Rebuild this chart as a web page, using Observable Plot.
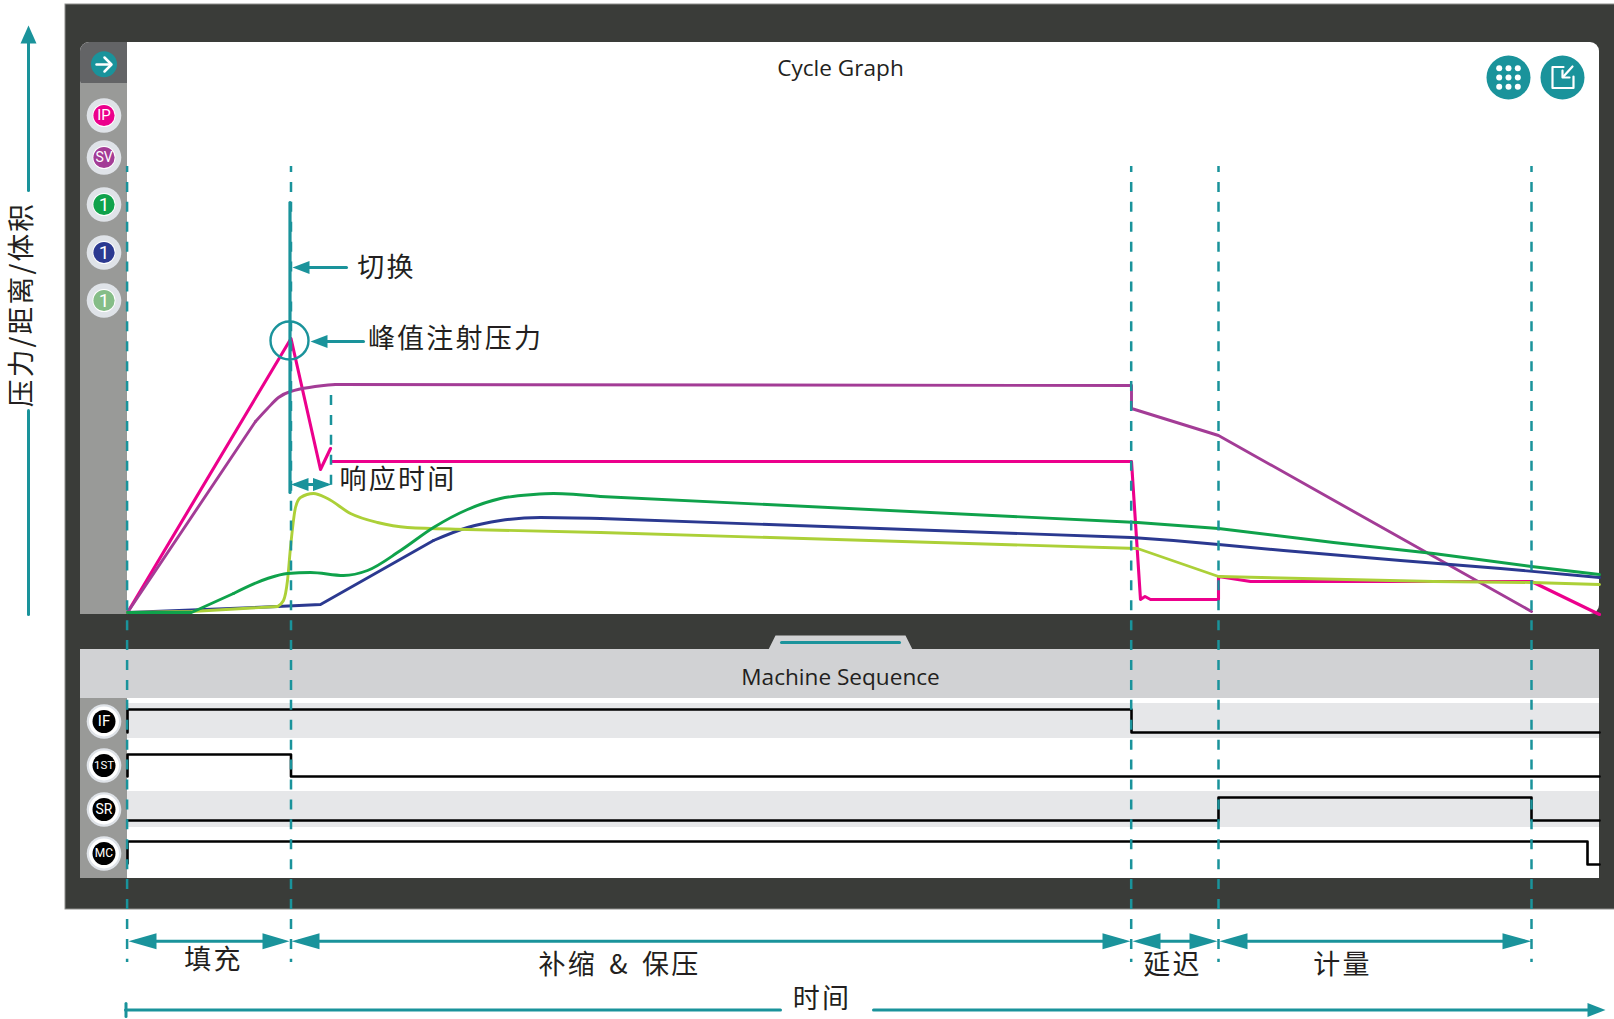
<!DOCTYPE html>
<html>
<head>
<meta charset="utf-8">
<style>
html,body{margin:0;padding:0;background:#fff}
svg{display:block}
g[font-family*="CJK"]{letter-spacing:2.2px;word-spacing:4px}
</style>
<script src="https://cdn.jsdelivr.net/npm/d3@7"></script>
<script src="https://cdn.jsdelivr.net/npm/@observablehq/plot@0.6"></script>
</head>
<body>
<div id="chart"></div>
<script>
// ---- Data: time (t) and value (v) ----
const ipRiseT = [0, 163.5, 193, 203];
const ipRiseV = [0, 274, 143, 164];
const ipHoldT = [204, 1004, 1013, 1017.5, 1023, 1091, 1091, 1123, 1404, 1472];
const ipHoldV = [151, 151, 13, 16, 13, 13, 36, 31, 31, -2];

const svRampT = [0, 128];
const svRampV = [0, 191];
const svBendT = [128, 140, 151, 163, 208];
const svBendV = [191, 204, 215, 221, 228];
const svTailT = [208, 1004, 1004, 1091, 1404];
const svTailV = [228, 227, 204, 177, 1];

const blueRampT = [0, 150, 193, 306];
const blueRampV = [0, 6, 8, 72];
const blueBendT = [306, 340, 373, 413, 473];
const blueBendV = [72, 85, 92, 95, 94];
const blueTailT = [473, 1004, 1046, 1091, 1156, 1273, 1373, 1472];
const blueTailV = [94, 75, 72, 68, 62, 52, 44, 35];

const limeRampT = [0, 64, 150];
const limeRampV = [0, 1, 6];
const limeBendT = [150, 156, 160, 163, 168, 173, 186, 200, 223, 250, 280, 340, 473];
const limeBendV = [6, 12, 32, 65, 105, 115, 119, 114, 99, 90, 85, 83, 80];
const limeTailT = [473, 1010, 1091, 1306, 1404, 1472];
const limeTailV = [80, 64, 36, 31, 30, 28];

const greenRampT = [0, 64, 106];
const greenRampV = [0, 0, 19];
const greenBendT = [106, 140, 160, 183, 216, 240, 273, 306, 340, 373, 406, 426, 473];
const greenBendV = [19, 34, 39, 40, 37, 42, 62, 85, 103, 114, 118, 119, 116];
const greenTailT = [473, 1010, 1091, 1206, 1306, 1404, 1472];
const greenTailV = [116, 90, 84, 70, 59, 46, 38];

// machine sequence on/off steps
const ifT = [0, 0, 1004, 1004, 1472];
const ifV = [-120, -97, -97, -120, -120];
const firstT = [0, 0, 163.5, 163.5, 1472];
const firstV = [-164, -142, -142, -164, -164];
const srT = [0, 1091, 1091, 1404, 1404, 1472];
const srV = [-208, -208, -185, -185, -208, -208];
const mcT = [0, 0, 1460, 1460, 1472];
const mcV = [-251, -229, -229, -252, -252];

// phase boundaries
const phaseTimes = [-0.4, 163.5, 1003.7, 1091, 1404];

// labels
const chartTitle = "Cycle Graph";
const seqTitle = "Machine Sequence";
const yLabel = "压力/距离/体积";
const xLabel = "时间";
const calloutSwitch = "切换";
const calloutPeak = "峰值注射压力";
const calloutResponse = "响应时间";
const phaseLabels = ["填充", "补缩 & 保压", "延迟", "计量"];
const topBadges = ["IP", "SV", "1", "1", "1"];
const seqBadges = ["IF", "1ST", "SR", "MC"];

// ---- Page-to-scale helpers ----
const X = p => p - 127, Y = p => 612 - p;
const teal = "#1a939b", ink = "#231f20";
const cjk = "'Noto Sans CJK SC'", latin = "'Open Sans'", narrow = "'Liberation Sans Narrow','Roboto'";

const pts = (t, v) => t.map((d, i) => ({t: d, v: v[i]}));
const curve = (t, v, stroke, curveName = "linear", w = 2.9) =>
  Plot.line(pts(t, v), {x: "t", y: "v", stroke, strokeWidth: w, curve: curveName, strokeLinejoin: "round"});
const box = (x1, y1, x2, y2, fill, extra = {}) =>
  Plot.rect([0], {x1: X(x1), x2: X(x2), y1: Y(y1), y2: Y(y2), fill, ...extra});
const seg = (points, stroke = teal, w = 3, extra = {}) =>
  Plot.line(points.map(([a, b]) => ({a: X(a), b: Y(b)})), {x: "a", y: "b", stroke, strokeWidth: w, ...extra});
const head = (tipX, tipY, baseX, baseY, half) => {
  const vertical = tipX === baseX;
  const c = vertical
    ? [[tipX, tipY], [tipX - half, baseY], [tipX + half, baseY]]
    : [[tipX, tipY], [baseX, tipY - half], [baseX, tipY + half]];
  return Plot.line(c.map(([a, b]) => ({a: X(a), b: Y(b)})), {x: "a", y: "b", fill: teal, stroke: "none", curve: "linear-closed"});
};
const label = (s, x, y, size, family = cjk, extra = {}) =>
  Plot.text([s], {x: X(x), y: Y(y), text: d => d, fontSize: size, fontFamily: family, fill: ink, ...extra});
const cn = (s, x, y) => label(s, x + 1, y + 2, 27);
const disc = (x, y, r, fill, extra = {}) =>
  Plot.dot([0], {x: X(x), y: Y(y), r, fill, stroke: "none", ...extra});
const badge = (s, y, ringFill, mid, innerR, innerFill, size) => [
  disc(103.5, y, 17.3, ringFill),
  disc(103.5, y, mid, "#fff"),
  disc(103.5, y, innerR, innerFill),
  label(s, 103.5, y, size, narrow, {fill: "#fff"})
];

const dash = {strokeDasharray: "10 9.92", stroke: teal, strokeWidth: 2.5};

const seriesColors = ["#ec008c", "#a33c96", "#0fa24b", "#2b3990", "#85bd87"];
const topBadgeY = [115, 157, 204, 252, 300];
const topBadgeSize = [15, 14, 19, 19, 19];
const seqBadgeY = [721, 765, 809, 853];
const seqBadgeSize = [15, 11.5, 14, 12];

const marks = [
  // frame and panels
  box(65, 4, 1620, 909, "#3a3c39", {stroke: "#8d8e8c", strokeWidth: 1}),
  box(80, 42, 1599, 614, "#fff", {rx: 9}),
  box(80, 42, 140, 90, "#636466", {rx: 9}),
  box(127, 42, 140, 90, "#fff"),
  box(80, 83, 127, 614, "#999a98"),
  // lower panel
  Plot.line([[768,649],[775,635],[905,635],[912,649]].map(([a,b]) => ({a: X(a), b: Y(b)})),
    {x: "a", y: "b", fill: "#d1d2d4", stroke: "none", curve: "linear-closed"}),
  box(80, 649, 1599, 698, "#d1d2d4"),
  box(80, 698, 1599, 878, "#fff"),
  box(80, 698, 127, 878, "#999a98"),
  box(127, 703, 1599, 738, "#e6e7e9"),
  box(127, 791, 1599, 827, "#e6e7e9"),
  seg([[781, 642], [899, 642]], teal, 3, {strokeLinecap: "round"}),

  // curves
  curve(ipRiseT, ipRiseV, "#ec008c", "linear", 3.1),
  curve(ipHoldT, ipHoldV, "#ec008c", "linear", 3.1),
  curve(svRampT, svRampV, "#a33c96"),
  curve(svBendT, svBendV, "#a33c96", "monotone-x"),
  curve(svTailT, svTailV, "#a33c96"),
  curve(blueRampT, blueRampV, "#2b3990"),
  curve(blueBendT, blueBendV, "#2b3990", "monotone-x"),
  curve(blueTailT, blueTailV, "#2b3990"),
  curve(limeRampT, limeRampV, "#acd038"),
  curve(limeBendT, limeBendV, "#acd038", "monotone-x"),
  curve(limeTailT, limeTailV, "#acd038"),
  curve(greenRampT, greenRampV, "#0fa24b"),
  curve(greenBendT, greenBendV, "#0fa24b", "monotone-x"),
  curve(greenTailT, greenTailV, "#0fa24b"),

  // machine sequence traces
  curve(ifT, ifV, "#000", "linear", 2.6),
  curve(firstT, firstV, "#000", "linear", 2.6),
  curve(srT, srV, "#000", "linear", 2.6),
  curve(mcT, mcV, "#000", "linear", 2.6),

  // phase boundaries
  Plot.ruleX(phaseTimes, {x: d => d, y1: Y(166), y2: Y(962), strokeDashoffset: 4, ...dash}),
  Plot.ruleX([203.5], {x: d => d, y1: Y(395), y2: Y(490), strokeDashoffset: 0, ...dash}),
  seg([[289.5, 202], [289.5, 492]], teal, 3.2),

  // callouts
  seg([[300, 267], [346, 267]]), head(292, 267, 309, 267, 6.5),
  cn(calloutSwitch, 385, 266),
  Plot.dot([0], {x: X(289), y: Y(340), r: 19, stroke: teal, strokeWidth: 2.4, fill: "none"}),
  seg([[320, 341], [363, 341]]), head(310, 341, 327, 341, 6.5),
  cn(calloutPeak, 454, 336.5),
  seg([[295, 484], [326, 484]]), head(290.5, 484, 308, 484, 6.5), head(331, 484, 312.5, 484, 6.5),
  cn(calloutResponse, 396.5, 477.5),

  // titles
  label(chartTitle, 840, 68, 22.6, latin),
  label(seqTitle, 840, 677, 22.6, latin),

  // left axis
  seg([[28, 614], [28, 410]]), seg([[28, 190], [28, 40]]), head(28, 25, 28, 43, 8),
  label(yLabel, 21.5, 304, 27.7, cjk, {rotate: -90}),

  // phase arrows
  seg([[135, 940.7], [282, 940.7]]), head(128, 940.7, 156, 940.7, 8), head(289, 940.7, 262, 940.7, 8),
  seg([[298, 940.7], [1123, 940.7]]), head(291, 940.7, 319, 940.7, 8), head(1130, 940.7, 1102, 940.7, 8),
  seg([[1139, 940.7], [1210, 940.7]]), head(1132, 940.7, 1160, 940.7, 8), head(1217, 940.7, 1189, 940.7, 8),
  seg([[1226, 940.7], [1524, 940.7]]), head(1219, 940.7, 1247, 940.7, 8), head(1531, 940.7, 1502, 940.7, 8),
  cn(phaseLabels[0], 212, 958),
  cn(phaseLabels[1], 618, 963),
  cn(phaseLabels[2], 1171, 963),
  cn(phaseLabels[3], 1341, 963),

  // time arrow
  seg([[125.5, 1003], [125.5, 1016]]),
  seg([[125, 1009.5], [780, 1009.5]]), seg([[873, 1009.5], [1590, 1009.5]]), head(1605, 1009.5, 1587, 1009.5, 7),
  cn(xLabel, 820.5, 997),

  // sidebar badges
  disc(103.5, 63.7, 13, teal),
  seg([[96, 64], [110, 64]], "#fff", 2.5),
  seg([[104, 57], [111, 64], [104, 71]], "#fff", 2.5),
  ...topBadges.flatMap((s, i) => badge(s, topBadgeY[i], "#dfe3e8", 11.5, 10.6, seriesColors[i], topBadgeSize[i])),
  ...seqBadges.flatMap((s, i) => badge(s, seqBadgeY[i], "#dfe3e8", 15, 11.5, "#000", seqBadgeSize[i])),

  // top-right buttons
  disc(1508, 77, 22, teal),
  Plot.dot(d3.cross([-9.3, 0, 9.3], [-9.3, 0, 9.3]), {x: d => X(1508 + d[0]), y: d => Y(77 + d[1]), r: 3, fill: "#fff", stroke: "none"}),
  disc(1562, 77, 22, teal),
  seg([[1573, 76], [1573, 87.5], [1552, 87.5], [1552, 66.5], [1563, 66.5]], "#fff", 2.2),
  seg([[1572, 66], [1562.5, 76.5]], "#fff", 2.2),
  seg([[1562, 70], [1562, 77], [1569, 77]], "#fff", 2.2)
];

const plot = Plot.plot({
  width: 1614,
  height: 1019,
  margin: 0,
  x: {domain: [-127, 1487], range: [0, 1614], axis: null},
  y: {domain: [-407, 612], range: [1019, 0], axis: null},
  style: {background: "#fff"},
  marks
});
document.getElementById("chart").appendChild(plot);
</script>
</body>
</html>
